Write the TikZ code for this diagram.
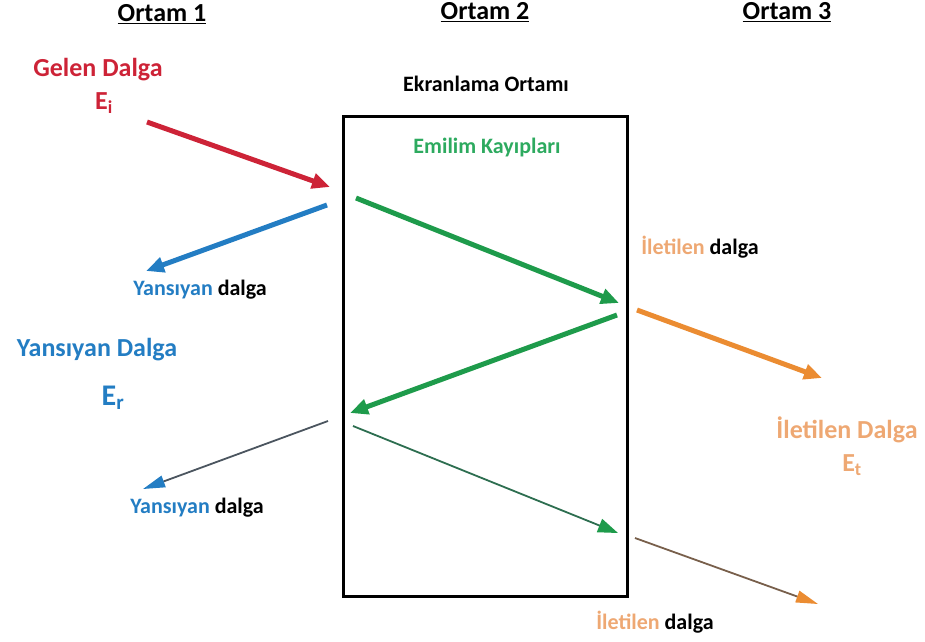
\documentclass[tikz,border=0pt]{standalone}
\usepackage{fontspec}
\setmainfont{Carlito}
\usetikzlibrary{arrows.meta}

\definecolor{gelen}{RGB}{205,35,55}
\definecolor{yansi}{RGB}{35,125,195}
\definecolor{emilim}{RGB}{30,155,75}
\definecolor{emyazi}{RGB}{45,170,95}
\definecolor{ilet}{RGB}{235,140,50}
\definecolor{iletyazi}{RGB}{238,168,115}
\definecolor{gri}{RGB}{75,85,95}
\definecolor{koyuyesil}{RGB}{45,110,80}
\definecolor{kahve}{RGB}{120,95,75}

\begin{document}
\begin{tikzpicture}[x=1pt,y=-1pt]
\tikzstyle{every node}+=[inner sep=0pt, font=\bfseries]
\tikzstyle{kalin}=[line width=5pt, -{Triangle[length=18pt,width=15pt]}]
\tikzstyle{ince}=[line width=1.8pt]
\tikzstyle{buyuk}=[font=\fontsize{26}{30}\selectfont\bfseries]
\tikzstyle{kucuk}=[font=\fontsize{22}{26}\selectfont\bfseries]
\useasboundingbox (0,0) rectangle (925,641);
% basliklar
\node [buyuk] (o1) at (162,14) {\underline{Ortam 1}};
\node [buyuk] (o2) at (485,12) {\underline{Ortam 2}};
\node [buyuk] (o3) at (787,12) {\underline{Ortam 3}};
% ekranlama ortami
\node [draw, line width=3pt, minimum width=284pt, minimum height=480pt] (ekran) at (485,356) {};
\node [kucuk] (ekadi) at (486,84) {Ekranlama Ortamı};
\node [kucuk, emyazi] (emadi) at (487,148) {Emilim Kayıpları};
% yazilar
\node [buyuk, gelen] (gelen) at (98,70) {Gelen Dalga};
\node [buyuk, gelen] (ei) at (104,103) {E\textsubscript{i}};
\node [buyuk, yansi] (yansiyan) at (97,350) {Yansıyan Dalga};
\node [font=\fontsize{30}{34}\selectfont\bfseries, yansi] (er) at (113,398) {E\textsubscript{r}};
\node [kucuk] (yd1) at (200,290) {\textcolor{yansi}{Yansıyan} dalga};
\node [kucuk] (yd2) at (197,508) {\textcolor{yansi}{Yansıyan} dalga};
\node [kucuk] (id1) at (700,247) {\textcolor{iletyazi}{İletilen} dalga};
\node [kucuk] (id2) at (655,622) {\textcolor{iletyazi}{İletilen} dalga};
\node [buyuk, iletyazi] (iletilen) at (847,430) {İletilen Dalga};
\node [buyuk, iletyazi] (et) at (852,465) {E\textsubscript{t}};
% ok uclari
\coordinate (a1) at (147,122); \coordinate (a2) at (330,187);
\coordinate (b1) at (327,205); \coordinate (b2) at (146,271);
\coordinate (c1) at (356,198); \coordinate (c2) at (619,303);
\coordinate (d1) at (617,315); \coordinate (d2) at (350,413);
\coordinate (e1) at (637,310); \coordinate (e2) at (822,378);
\coordinate (f1) at (328,421); \coordinate (f2) at (143,489);
\coordinate (g1) at (353,426); \coordinate (g2) at (618,533);
\coordinate (h1) at (635,538); \coordinate (h2) at (818,604);
% oklar
\draw [kalin, gelen] (a1) -- (a2);
\draw [kalin, yansi] (b1) -- (b2);
\draw [kalin, emilim] (c1) -- (c2);
\draw [kalin, emilim] (d1) -- (d2);
\draw [kalin, ilet] (e1) -- (e2);
\draw [ince, gri, -{Triangle[length=22pt,width=12pt,color=yansi]}] (f1) -- (f2);
\draw [ince, koyuyesil, -{Triangle[length=20pt,width=14pt,color=emilim]}] (g1) -- (g2);
\draw [ince, kahve, -{Triangle[length=22pt,width=12pt,color=ilet]}] (h1) -- (h2);
\end{tikzpicture}
\end{document}
